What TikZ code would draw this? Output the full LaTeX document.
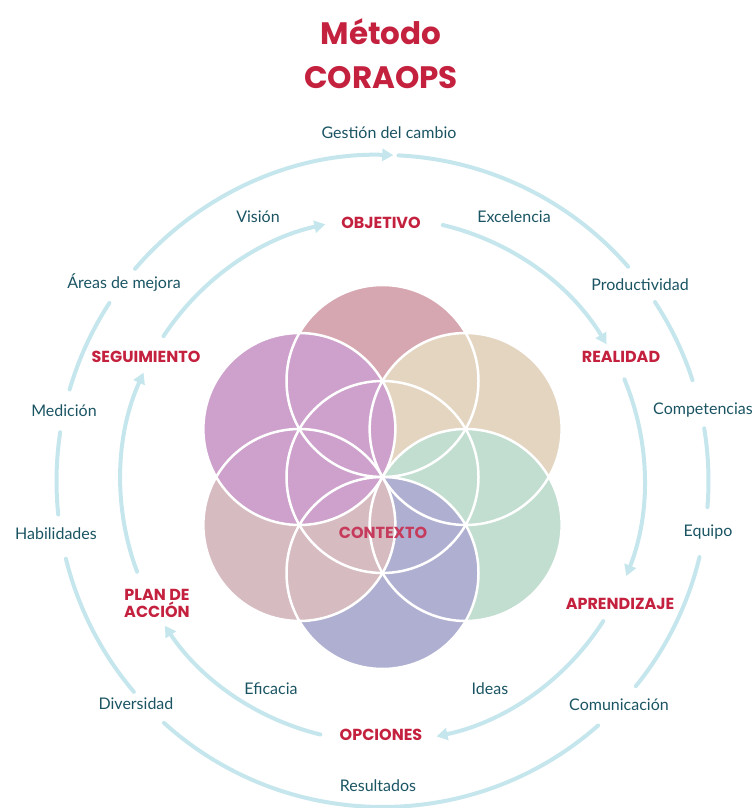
\documentclass[tikz,border=0pt]{standalone}
\usepackage{fontspec}
\setmainfont{Lato}
\newfontfamily\titlefont{Poppins}
\usetikzlibrary{arrows.meta}

\definecolor{anillo}{RGB}{197,230,236}
\definecolor{textoazul}{RGB}{26,84,99}
\definecolor{rojo}{RGB}{196,33,63}
\definecolor{rosa}{RGB}{215,167,177}
\definecolor{beige}{RGB}{228,213,193}
\definecolor{menta}{RGB}{194,222,208}
\definecolor{lavanda}{RGB}{175,175,209}
\definecolor{malva}{RGB}{214,187,193}
\definecolor{lila}{RGB}{205,161,204}

\tikzset{
  arco/.style={draw=anillo,line width=4pt,line cap=round},
  flecha/.style={arco,-{Triangle[width=12pt,length=11pt]}},
  etiqueta/.style={text=textoazul,font=\fontsize{16}{18}\selectfont,inner sep=1pt},
  fase/.style={text=rojo,font=\titlefont\bfseries\fontsize{16}{17}\selectfont,align=center,inner sep=1pt},
  borde/.style={draw=white,line width=2.5pt}
}

\begin{document}
\begin{tikzpicture}[x=1pt,y=1pt]
\useasboundingbox (0,0) rectangle (753,808);

% titulo
\node[text=rojo,font=\titlefont\bfseries\fontsize{31}{33}\selectfont] (titulo1) at (381,776) {Método};
\node[text=rojo,font=\titlefont\bfseries\fontsize{31}{33}\selectfont] (titulo2) at (381,730) {CORAOPS};

% flor
\coordinate (fc) at (382.5,331);
\fill[rosa] ([shift={(90:96)}]fc) circle[radius=96];
\fill[beige] ([shift={(30:96)}]fc) circle[radius=96];
\fill[menta] ([shift={(-30:96)}]fc) circle[radius=96];
\fill[lavanda] ([shift={(-90:96)}]fc) circle[radius=96];
\fill[malva] ([shift={(-150:96)}]fc) circle[radius=96];
\fill[lila] ([shift={(150:96)}]fc) circle[radius=96];
\draw[borde] (fc) circle[radius=96];
\draw[borde] ([shift={(90:96)}]fc) circle[radius=96];
\draw[borde] ([shift={(30:96)}]fc) circle[radius=96];
\draw[borde] ([shift={(-30:96)}]fc) circle[radius=96];
\draw[borde] ([shift={(-90:96)}]fc) circle[radius=96];
\draw[borde] ([shift={(-150:96)}]fc) circle[radius=96];
\draw[borde] ([shift={(150:96)}]fc) circle[radius=96];
\node[fase,text=rojo!80!lila] (contexto) at (383,275) {CONTEXTO};

% anillo exterior
\coordinate (oc) at (382.5,327);
\draw[flecha] ([shift={(139.4:326)}]oc) arc[start angle=139.4,end angle=88.1,radius=326];
\draw[arco] ([shift={(87.2:326)}]oc) arc[start angle=87.2,end angle=41.1,radius=326];
\draw[arco] ([shift={(33.3:326)}]oc) arc[start angle=33.3,end angle=18,radius=326];
\draw[arco] ([shift={(9.3:326)}]oc) arc[start angle=9.3,end angle=-4.6,radius=326];
\draw[arco] ([shift={(-13.5:326)}]oc) arc[start angle=-13.5,end angle=-39,radius=326];
\draw[arco] ([shift={(-48.6:326)}]oc) arc[start angle=-48.6,end angle=-132.1,radius=326];
\draw[arco] ([shift={(-139.7:326)}]oc) arc[start angle=-139.7,end angle=-166.2,radius=326];
\draw[arco] ([shift={(185.9:326)}]oc) arc[start angle=185.9,end angle=171.4,radius=326];
\draw[arco] ([shift={(163.7:326)}]oc) arc[start angle=163.7,end angle=146.9,radius=326];

% anillo interior
\coordinate (ic) at (382.5,328);
\draw[flecha] ([shift={(146.7:262)}]ic) arc[start angle=146.7,end angle=102.6,radius=262];
\draw[flecha] ([shift={(76.7:262)}]ic) arc[start angle=76.7,end angle=31.2,radius=262];
\draw[flecha] ([shift={(22.6:262)}]ic) arc[start angle=22.6,end angle=-21.5,radius=262];
\draw[flecha] ([shift={(-32.6:262)}]ic) arc[start angle=-32.6,end angle=-78.1,radius=262];
\draw[flecha] ([shift={(-103.7:262)}]ic) arc[start angle=-103.7,end angle=-146.2,radius=262];
\draw[flecha] ([shift={(-159.5:262)}]ic) arc[start angle=-159.5,end angle=-204.2,radius=262];

% fases
\node[fase] (objetivo) at (381,585) {OBJETIVO};
\node[fase] (realidad) at (621,451) {REALIDAD};
\node[fase] (aprendizaje) at (620,204) {APRENDIZAJE};
\node[fase] (opciones) at (381,73) {OPCIONES};
\node[fase] (plan) at (157,205) {PLAN DE\\ACCIÓN};
\node[fase] (seguimiento) at (146,451) {SEGUIMIENTO};

% etiquetas
\node[etiqueta] (gestion) at (389,675) {Gestión del cambio};
\node[etiqueta] (vision) at (258,591) {Visión};
\node[etiqueta] (excelencia) at (514,591) {Excelencia};
\node[etiqueta] (areas) at (124,525) {Áreas de mejora};
\node[etiqueta] (productividad) at (640,523) {Productividad};
\node[etiqueta] (medicion) at (64,397) {Medición};
\node[etiqueta] (competencias) at (703,398) {Competencias};
\node[etiqueta] (habilidades) at (56,274) {Habilidades};
\node[etiqueta] (equipo) at (708,276) {Equipo};
\node[etiqueta] (diversidad) at (136,104) {Diversidad};
\node[etiqueta] (comunicacion) at (619,103) {Comunicación};
\node[etiqueta] (eficacia) at (271,119) {Eficacia};
\node[etiqueta] (ideas) at (490,119) {Ideas};
\node[etiqueta] (resultados) at (378,22) {Resultados};
\end{tikzpicture}
\end{document}
